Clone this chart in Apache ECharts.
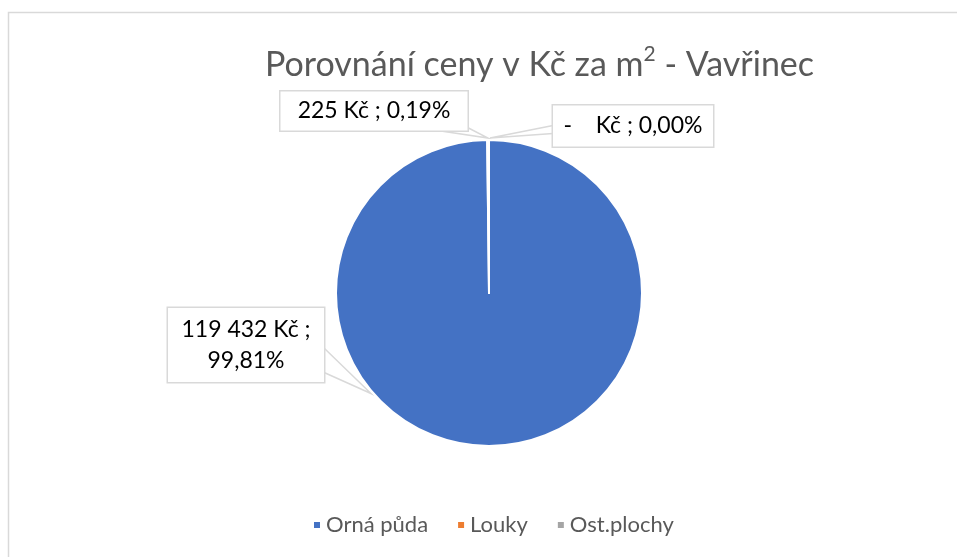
<!DOCTYPE html>
<html>
<head>
<meta charset="utf-8">
<script src="https://cdn.jsdelivr.net/npm/echarts@6/dist/echarts.min.js"></script>
<style>
    html, body { margin: 0; padding: 0; background: #fff; overflow: hidden; }
    #chart { width: 957px; height: 557px; }
</style>
</head>
<body>
<div id="chart"></div>
<script>
    // data
    const categories = ['Orná půda', 'Louky', 'Ost.plochy'];
    const values = [119432, 225, 0];
    const colors = ['#4472C4', '#ED7D31', '#A5A5A5'];

    // pie geometry + callout boxes (center x/y, size)
    const cx = 489, cy = 293, r = 153;
    const boxes = [
        { x: 246, y: 345, w: 156, h: 74 },
        { x: 374, y: 111, w: 187, h: 39 },
        { x: 633, y: 126, w: 160, h: 41 }
    ];
    const FONT = 'Lato, "Open Sans", sans-serif';

    function fmtNum(v) {
        if (v === 0) return '-   ';
        return String(v).replace(/\B(?=(\d{3})+(?!\d))/g, ' ');
    }

    // wedge-like pointer for each callout: box point -> slice anchor -> box point
    function pointer(i) {
        const b = boxes[i];
        const left = b.x - b.w / 2, right = b.x + b.w / 2;
        const top = b.y - b.h / 2, bottom = b.y + b.h / 2;
        if (i === 0) {
            const a = 139.6 * Math.PI / 180;
            const ax = cx + (r + 2) * Math.cos(a), ay = cy + (r + 2) * Math.sin(a);
            return [[right, top + 40], [ax, ay], [right - 1, bottom - 10]];
        }
        const ax = cx, ay = cy - r - 2;
        if (i === 1) return [[right - 30, bottom], [ax - 1, ay], [right, bottom - 3]];
        return [[left, top + 20], [ax + 1, ay], [left, top + 28]];
    }

    const chart = echarts.init(document.getElementById('chart'));
    const option = {
        animation: false,
        color: colors,
        textStyle: { fontFamily: FONT },
        graphic: [{
            type: 'rect',
            silent: true,
            z: -10,
            shape: { x: 8.5, y: 12.5, width: 1000, height: 600 },
            style: { fill: 'none', stroke: '#d9d9d9', lineWidth: 1.5 }
        }],
        title: {
            left: 260,
            top: 39,
            text: '{a|Porovnání ceny v Kč za m}{s|2}{a| - Vavřinec}',
            textStyle: {
                fontWeight: 'normal',
                rich: {
                    a: { fontSize: 34, color: '#595959', fontFamily: FONT, fontWeight: 'normal', lineHeight: 42 },
                    s: { fontSize: 21, color: '#595959', fontFamily: FONT, fontWeight: 'normal', verticalAlign: 'top', lineHeight: 27 }
                }
            }
        },
        legend: {
            left: 312,
            top: 514,
            padding: 0,
            icon: 'rect',
            itemWidth: 8,
            itemHeight: 8,
            itemGap: 28,
            data: categories,
            textStyle: { fontSize: 22, color: '#595959', fontFamily: FONT }
        },
        series: [{
            type: 'pie',
            center: [cx, cy],
            radius: r,
            startAngle: 90,
            clockwise: true,
            avoidLabelOverlap: false,
            percentPrecision: 2,
            emphasis: { disabled: true },
            itemStyle: { borderColor: '#fff', borderWidth: 2 },
            label: {
                show: true,
                position: 'outside',
                color: '#000',
                fontSize: 23,
                fontFamily: FONT,
                lineHeight: 31,
                backgroundColor: '#fff',
                borderColor: '#d9d9d9',
                borderWidth: 1.5,
                padding: 0,
                formatter: function (p) {
                    const txt = fmtNum(p.value) + ' Kč ; ' + p.percent.toFixed(2).replace('.', ',') + '%';
                    return p.dataIndex === 0 ? txt.replace('; ', ';\n') : txt;
                }
            },
            labelLine: { show: true, lineStyle: { color: '#d9d9d9', width: 1.5 } },
            labelLayout: function (params) {
                const b = boxes[params.dataIndex];
                return {
                    x: b.x,
                    y: b.y,
                    align: 'center',
                    verticalAlign: 'middle',
                    labelLinePoints: pointer(params.dataIndex)
                };
            },
            data: categories.map(function (name, i) {
                return {
                    name: name,
                    value: values[i],
                    label: { width: boxes[i].w, height: boxes[i].h }
                };
            })
        }]
    };
    chart.setOption(option);
</script>
</body>
</html>
